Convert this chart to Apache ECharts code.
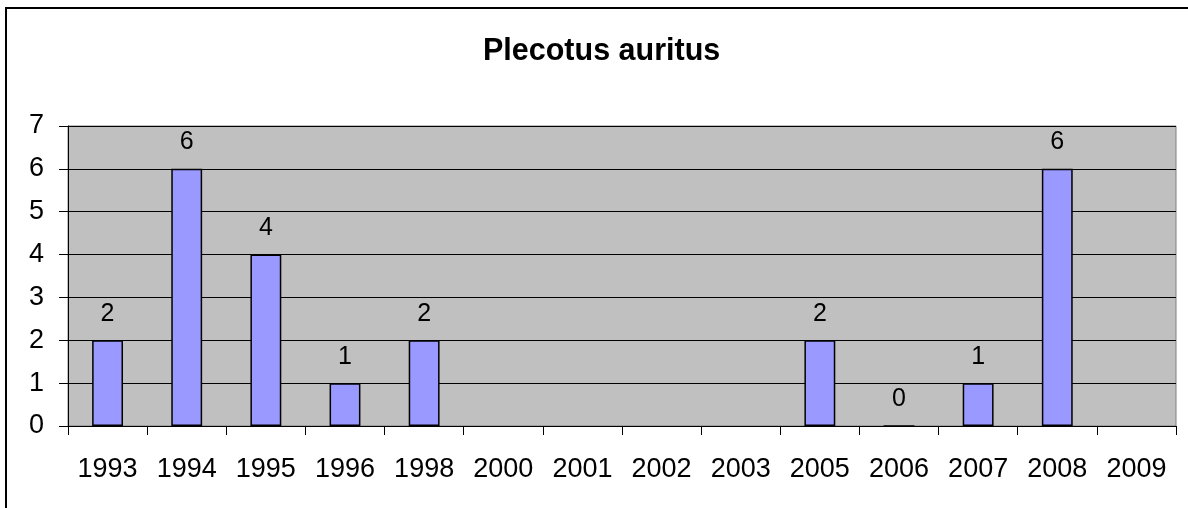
<!DOCTYPE html>
<html>
<head>
<meta charset="utf-8">
<script src="https://cdn.jsdelivr.net/npm/echarts@6/dist/echarts.min.js"></script>
<style>
html,body{margin:0;padding:0;background:#fff;}
#chart{width:1188px;height:508px;}
</style>
</head>
<body>
<div id="chart"></div>
<script>
const title = 'Plecotus auritus';
const categories = ['1993','1994','1995','1996','1998','2000','2001','2002','2003','2005','2006','2007','2008','2009'];
const values = [2, 6, 4, 1, 2, null, null, null, null, 2, 0, 1, 6, null];
const yMin = 0, yMax = 7, yStep = 1;

const chart = echarts.init(document.getElementById('chart'), null, {renderer: 'canvas'});
const font = 'Arial, "Liberation Sans", sans-serif';
chart.setOption({
  animation: false,
  backgroundColor: '#fff',
  title: {
    text: title,
    left: 478,
    top: 31,
    textStyle: {fontFamily: font, fontSize: 30.5, fontWeight: 'bold', color: '#000'}
  },
  graphic: [{
    type: 'rect',
    shape: {x: 6, y: 8, width: 1300, height: 600},
    style: {fill: 'none', stroke: '#000', lineWidth: 2},
    silent: true,
    z: 100
  }],
  grid: {left: 68, right: 12, top: 126, bottom: 82, show: true, backgroundColor: '#C0C0C0', borderColor: '#808080', borderWidth: 1},
  xAxis: {
    type: 'category',
    data: categories,
    axisLine: {lineStyle: {color: '#000', width: 1}},
    axisTick: {show: true, alignWithLabel: false, length: 9, lineStyle: {color: '#000'}},
    axisLabel: {fontFamily: font, fontSize: 27, color: '#000', margin: 30, interval: 0},
    splitLine: {show: false}
  },
  yAxis: {
    type: 'value',
    min: yMin, max: yMax, interval: yStep,
    axisLine: {show: true, lineStyle: {color: '#000', width: 1}},
    axisTick: {show: true, length: 9, lineStyle: {color: '#000'}},
    axisLabel: {fontFamily: font, fontSize: 27, color: '#000', margin: 24},
    splitLine: {show: true, lineStyle: {color: '#000', width: 1}}
  },
  series: [{
    type: 'bar',
    data: values,
    barWidth: '39%',
    itemStyle: {color: '#9999FF', borderColor: '#000', borderWidth: 1.5},
    label: {show: true, position: 'top', distance: 14, fontFamily: font, fontSize: 25, color: '#000'}
  }]
});
</script>
</body>
</html>
